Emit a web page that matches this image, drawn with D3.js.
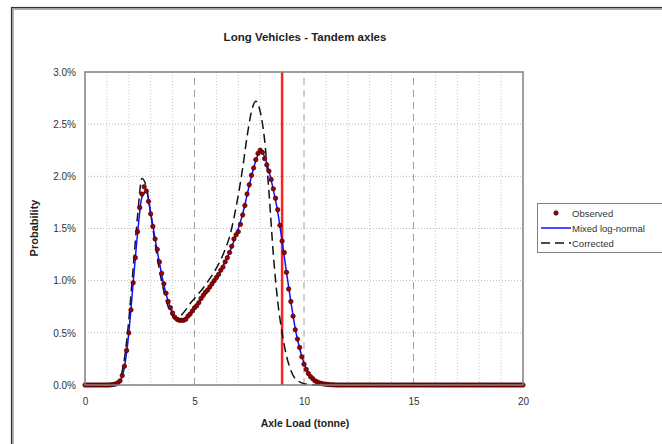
<!DOCTYPE html>
<html>
<head>
<meta charset="utf-8">
<script src="https://cdn.jsdelivr.net/npm/d3@7"></script>
<style>
  html, body { margin: 0; padding: 0; background: #fff; }
  svg { display: block; font-family: "Liberation Sans", Arial, sans-serif; }
</style>
</head>
<body>
<svg id="chart" width="662" height="444"></svg>
<script>
// Long Vehicles - Tandem axles : observed axle load spectrum vs fitted curves

// --- data (probability in %) ---
const xTicks = [0, 5, 10, 15, 20];
const yTicks = [0, 0.5, 1.0, 1.5, 2.0, 2.5, 3.0];
const limitLoad = 9; // red vertical line

// observed, one value every 0.1 tonne from 0 to 20
const obsStep = 0.1;
const observed = [
  0, 0, 0, 0, 0, 0, 0, 0, 0, 0,
  0, 0, 0.002, 0.005, 0.01, 0.02, 0.04, 0.09, 0.18, 0.33,
  0.50, 0.72, 0.98, 1.22, 1.47, 1.70, 1.83, 1.90, 1.86, 1.76,
  1.64, 1.52, 1.40, 1.30, 1.18, 1.07, 0.97, 0.88, 0.80, 0.74,
  0.69, 0.65, 0.63, 0.62, 0.62, 0.62, 0.63, 0.66, 0.68, 0.71,
  0.74, 0.76, 0.79, 0.83, 0.86, 0.89, 0.91, 0.94, 0.97, 1.00,
  1.03, 1.06, 1.10, 1.13, 1.18, 1.22, 1.27, 1.33, 1.40, 1.44,
  1.47, 1.54, 1.63, 1.72, 1.83, 1.92, 2.01, 2.08, 2.16, 2.22,
  2.25, 2.23, 2.17, 2.11, 2.05, 1.97, 1.88, 1.79, 1.68, 1.53,
  1.38, 1.27, 1.08, 0.92, 0.80, 0.66, 0.53, 0.44, 0.36, 0.27,
  0.20, 0.15, 0.11, 0.08, 0.06, 0.04, 0.03, 0.02, 0.015, 0.01,
  0.007, 0.005, 0.003, 0.002, 0.001, 0, 0, 0, 0, 0,
  0, 0, 0, 0, 0, 0, 0, 0, 0, 0,
  0, 0, 0, 0, 0, 0, 0, 0, 0, 0,
  0, 0, 0, 0, 0, 0, 0, 0, 0, 0,
  0, 0, 0, 0, 0, 0, 0, 0, 0, 0,
  0, 0, 0, 0, 0, 0, 0, 0, 0, 0,
  0, 0, 0, 0, 0, 0, 0, 0, 0, 0,
  0, 0, 0, 0, 0, 0, 0, 0, 0, 0,
  0, 0, 0, 0, 0, 0, 0, 0, 0, 0,
  0
];

// fitted curves, one value every 0.2 tonne from 0 to 20
const fitStep = 0.2;
const mixedLogNormal = [
  0, 0, 0, 0, 0, 0, 0, 0.01, 0.04, 0.17,
  0.50, 0.98, 1.45, 1.80, 1.85, 1.65, 1.40, 1.17, 0.96, 0.80,
  0.69, 0.64, 0.63, 0.64, 0.68, 0.73, 0.79, 0.85, 0.91, 0.97,
  1.03, 1.10, 1.18, 1.27, 1.38, 1.50, 1.64, 1.82, 2.00, 2.15,
  2.24, 2.19, 2.05, 1.87, 1.66, 1.38, 1.08, 0.80, 0.54, 0.35,
  0.21, 0.11, 0.06, 0.03, 0.015, 0.007, 0.003, 0.001, 0, 0,
  0, 0, 0, 0, 0, 0, 0, 0, 0, 0,
  0, 0, 0, 0, 0, 0, 0, 0, 0, 0,
  0, 0, 0, 0, 0, 0, 0, 0, 0, 0,
  0, 0, 0, 0, 0, 0, 0, 0, 0, 0,
  0
];
const corrected = [
  0, 0, 0, 0, 0, 0, 0, 0.01, 0.06, 0.25,
  0.62, 1.12, 1.62, 1.98, 1.90, 1.64, 1.36, 1.10, 0.90, 0.75,
  0.66, 0.64, 0.67, 0.72, 0.78, 0.83, 0.88, 0.93, 0.99, 1.05,
  1.12, 1.20, 1.30, 1.42, 1.60, 1.82, 2.08, 2.38, 2.62, 2.72,
  2.62, 2.35, 1.85, 1.25, 0.80, 0.50, 0.28, 0.14, 0.06, 0.03,
  0.012, 0.005, 0.002, 0, 0, 0, 0, 0, 0, 0,
  0, 0, 0, 0, 0, 0, 0, 0, 0, 0,
  0, 0, 0, 0, 0, 0, 0, 0, 0, 0,
  0, 0, 0, 0, 0, 0, 0, 0, 0, 0,
  0, 0, 0, 0, 0, 0, 0, 0, 0, 0,
  0
];

const svg = d3.select("#chart");

// chart frame (runs off the right and bottom edge, like the source)
svg.append("rect").attr("x", 12.5).attr("y", 8.5).attr("width", 700).attr("height", 500)
  .attr("fill", "none").attr("stroke", "#b0b0b0").attr("stroke-width", 3);
svg.append("rect").attr("x", 11.5).attr("y", 7.5).attr("width", 700).attr("height", 500)
  .attr("fill", "none").attr("stroke", "#333").attr("stroke-width", 1.2);

// --- scales ---
const x = d3.scaleLinear().domain([0, 20]).range([85, 523]);
const y = d3.scaleLinear().domain([0, 3]).range([385, 72]);

// gridlines
const grid = svg.append("g");
grid.selectAll("line.h").data(yTicks.filter(d => d > 0 && d < 3)).join("line")
  .attr("x1", x(0)).attr("x2", x(20)).attr("y1", d => y(d)).attr("y2", d => y(d))
  .attr("stroke", "#b8b8b8").attr("stroke-width", 1).attr("stroke-dasharray", "1,2");
grid.selectAll("line.v").data(d3.range(1, 20)).join("line")
  .attr("y1", y(0)).attr("y2", y(3)).attr("x1", d => x(d)).attr("x2", d => x(d))
  .attr("stroke", d => d % 5 === 0 ? "#a0a0a0" : "#c8c8c8")
  .attr("stroke-width", 1)
  .attr("stroke-dasharray", d => d % 5 === 0 ? "7,5" : "1,2");

// limit line
svg.append("line")
  .attr("x1", x(limitLoad)).attr("x2", x(limitLoad)).attr("y1", y(3)).attr("y2", y(0))
  .attr("stroke", "#ff2020").attr("stroke-width", 2.5);

// curves
const fitX = (d, i) => x(i * fitStep);
const lineGen = d3.line().x(fitX).y(d => y(d)).curve(d3.curveMonotoneX);

svg.append("path").datum(corrected).attr("d", lineGen)
  .attr("fill", "none").attr("stroke", "#111").attr("stroke-width", 1.5)
  .attr("stroke-dasharray", "9,5");
svg.append("path").datum(mixedLogNormal).attr("d", lineGen)
  .attr("fill", "none").attr("stroke", "#1010ff").attr("stroke-width", 1.5);

// observed points
svg.append("g").selectAll("circle").data(observed).join("circle")
  .attr("cx", (d, i) => x(i * obsStep)).attr("cy", d => y(d)).attr("r", 2.2)
  .attr("fill", "#a00000").attr("stroke", "#400000").attr("stroke-width", 0.7);

// plot border
svg.append("rect").attr("x", x(0)).attr("y", y(3))
  .attr("width", x(20) - x(0)).attr("height", y(0) - y(3))
  .attr("fill", "none").attr("stroke", "#808080").attr("stroke-width", 1.5);

// axes
const yAxis = svg.append("g").attr("transform", `translate(${x(0)},0)`)
  .call(d3.axisLeft(y).tickValues(yTicks).tickSize(0).tickPadding(9)
    .tickFormat(d => d.toFixed(1) + "%"));
const xAxis = svg.append("g").attr("transform", `translate(0,${y(0)})`)
  .call(d3.axisBottom(x).tickValues(xTicks).tickSize(0).tickPadding(13));
[yAxis, xAxis].forEach(a => {
  a.select(".domain").remove();
  a.selectAll("text").attr("font-family", "'Liberation Sans', Arial, sans-serif")
    .attr("font-size", 10).attr("fill", "#333");
});

// titles
svg.append("text").attr("x", 305).attr("y", 41).attr("text-anchor", "middle")
  .attr("font-size", 11.5).attr("font-weight", "bold").attr("fill", "#222")
  .text("Long Vehicles - Tandem axles");
svg.append("text").attr("x", 305).attr("y", 427).attr("text-anchor", "middle")
  .attr("font-size", 10.5).attr("font-weight", "bold").attr("fill", "#222")
  .text("Axle Load (tonne)");
svg.append("text").attr("transform", "translate(38,228) rotate(-90)").attr("text-anchor", "middle")
  .attr("font-size", 11).attr("font-weight", "bold").attr("fill", "#222")
  .text("Probability");

// legend
const leg = svg.append("g").attr("transform", "translate(537,203)");
leg.append("rect").attr("x", 0.5).attr("y", 0.5).attr("width", 140).attr("height", 49)
  .attr("fill", "#fff").attr("stroke", "#808080").attr("stroke-width", 1);
const legendItems = ["Observed", "Mixed log-normal", "Corrected"];
const rowY = [10, 25, 40];
leg.append("circle").attr("cx", 19).attr("cy", rowY[0]).attr("r", 2.2)
  .attr("fill", "#a00000").attr("stroke", "#400000").attr("stroke-width", 0.7);
leg.append("line").attr("x1", 4).attr("x2", 34).attr("y1", rowY[1]).attr("y2", rowY[1])
  .attr("stroke", "#1010ff").attr("stroke-width", 1.5);
leg.append("line").attr("x1", 4).attr("x2", 34).attr("y1", rowY[2]).attr("y2", rowY[2])
  .attr("stroke", "#111").attr("stroke-width", 1.5).attr("stroke-dasharray", "9,5");
leg.selectAll("text").data(legendItems).join("text")
  .attr("x", 35).attr("y", (d, i) => rowY[i] + 3.5)
  .attr("font-size", 9.5).attr("fill", "#333")
  .text(d => d);
</script>
</body>
</html>
